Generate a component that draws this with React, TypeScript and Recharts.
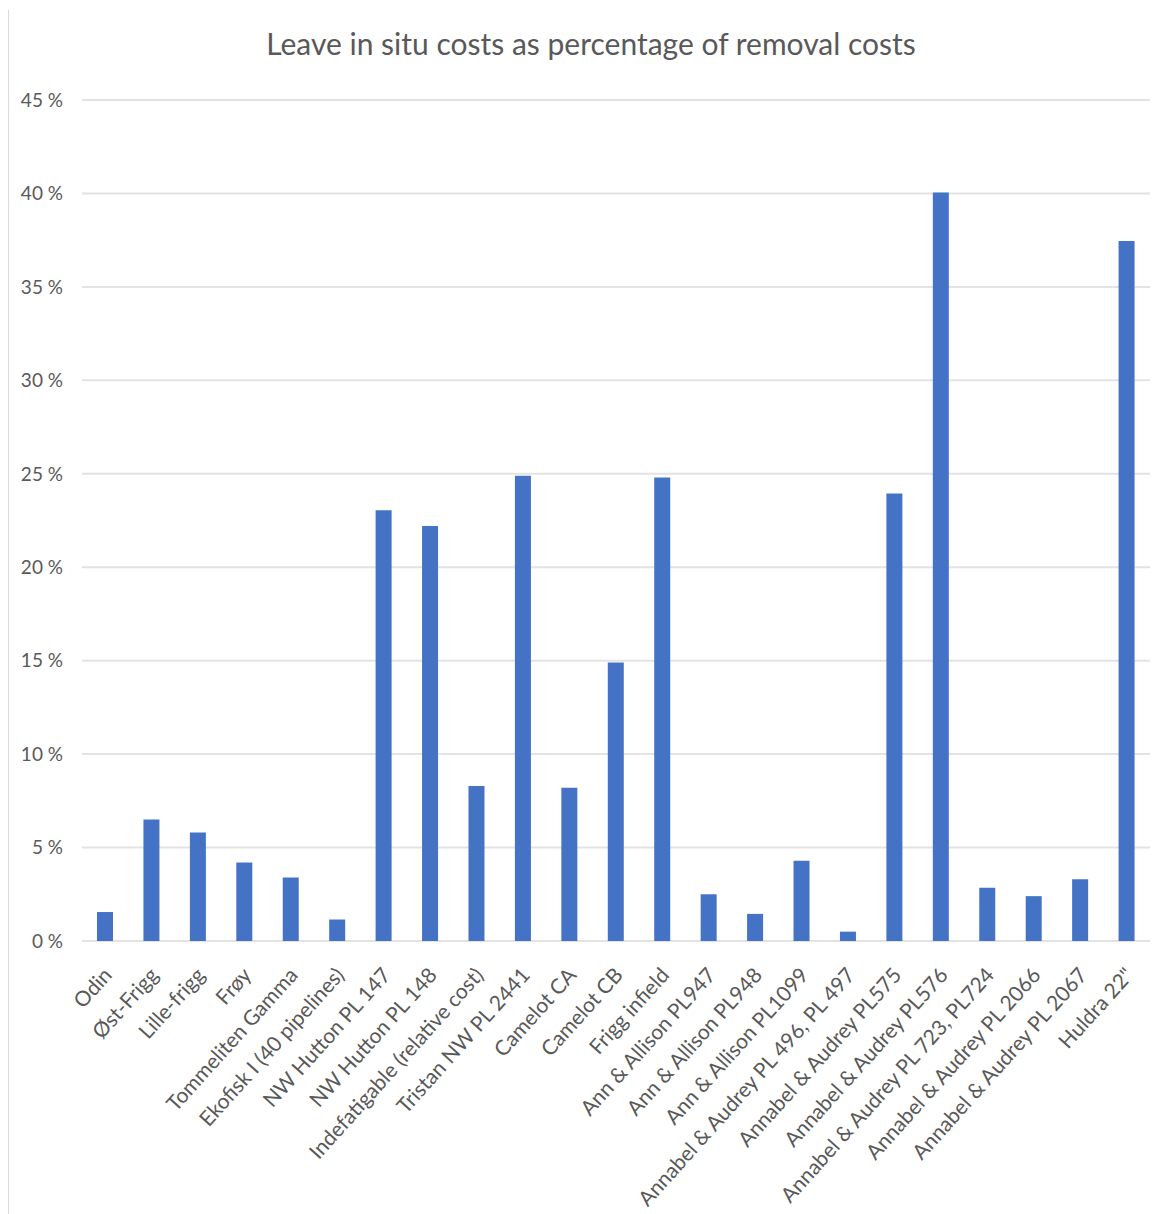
import React from 'react';
import { BarChart, Bar, XAxis, YAxis, CartesianGrid } from 'recharts';

const title = 'Leave in situ costs as percentage of removal costs';

const categories = [
  'Odin',
  'Øst-Frigg',
  'Lille-frigg',
  'Frøy',
  'Tommeliten Gamma',
  'Ekofisk I (40 pipelines)',
  'NW Hutton PL 147',
  'NW Hutton PL 148',
  'Indefatigable (relative cost)',
  'Tristan NW PL 2441',
  'Camelot CA',
  'Camelot CB',
  'Frigg infield',
  'Ann & Allison PL947',
  'Ann & Allison PL948',
  'Ann & Allison PL1099',
  'Annabel & Audrey PL 496, PL 497',
  'Annabel & Audrey PL575',
  'Annabel & Audrey PL576',
  'Annabel & Audrey PL 723, PL724',
  'Annabel & Audrey PL 2066',
  'Annabel & Audrey PL 2067',
  'Huldra 22"',
];

const values = [
  1.55, 6.5, 5.8, 4.2, 3.4, 1.15, 23.05, 22.2, 8.3, 24.9, 8.2, 14.9, 24.8,
  2.5, 1.45, 4.3, 0.5, 23.95, 40.05, 2.85, 2.4, 3.3, 37.45,
];

const yTicks = [0, 5, 10, 15, 20, 25, 30, 35, 40, 45];

const data = categories.map((name, i) => ({ name, value: values[i] }));

const FONT = "Lato, 'Open Sans', sans-serif";
const TEXT = '#595959';

const XTick = (props: any) => {
  const { x, y, payload } = props;
  return (
    <g transform={`translate(${x + 8}, ${y}) rotate(-48)`}>
      <text x={0} y={0} textAnchor="end" fill={TEXT} fontSize={21} fontFamily={FONT}>
        {payload.value}
      </text>
    </g>
  );
};

export default function App() {
  return (
    <div style={{ position: 'absolute', left: 0, top: 0, width: 1165, height: 1214, background: '#fff' }}>
      <div
        style={{
          position: 'absolute',
          left: 8,
          top: 10,
          width: 1,
          height: 1204,
          background: '#d9d9d9',
        }}
      />
      <div
        style={{
          position: 'absolute',
          left: 0,
          top: 25,
          width: 1182,
          textAlign: 'center',
          fontFamily: FONT,
          fontSize: 30,
          lineHeight: '36px',
          color: TEXT,
          whiteSpace: 'nowrap',
        }}
      >
        {title}
      </div>
      <BarChart
        width={1165}
        height={1214}
        data={data}
        margin={{ top: 100, right: 15, bottom: 0, left: 0 }}
      >
        <CartesianGrid vertical={false} stroke="#e3e3e3" strokeWidth={2} />
        <XAxis
          dataKey="name"
          interval={0}
          height={273}
          axisLine={false}
          tickLine={false}
          tickSize={0}
          tickMargin={35}
          tick={<XTick />}
        />
        <YAxis
          width={82}
          domain={[0, 45]}
          ticks={yTicks}
          axisLine={false}
          tickLine={false}
          tickSize={0}
          tickMargin={19}
          tickFormatter={(v: number) => `${v} %`}
          tick={{ fill: TEXT, fontSize: 19, fontFamily: FONT }}
        />
        <Bar dataKey="value" fill="#4472c4" barSize={16} isAnimationActive={false} />
      </BarChart>
    </div>
  );
}
